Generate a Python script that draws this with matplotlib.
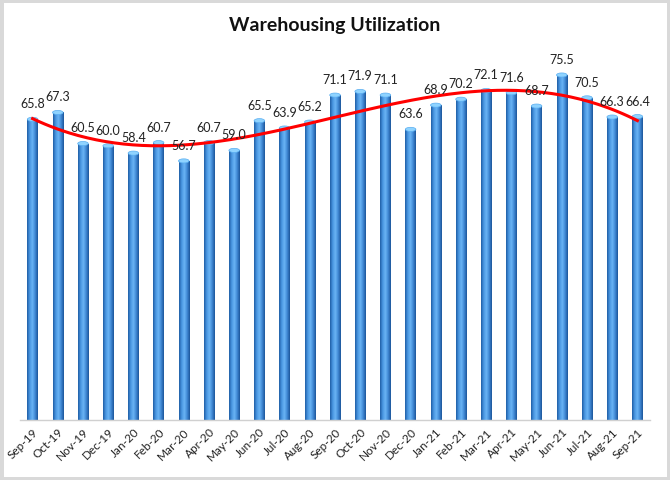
import matplotlib.pyplot as plt
import numpy as np
from matplotlib.patches import Ellipse
from matplotlib.colors import LinearSegmentedColormap

plt.rcParams['font.family'] = ['Lato', 'DejaVu Sans']

months = ['Sep-19', 'Oct-19', 'Nov-19', 'Dec-19', 'Jan-20', 'Feb-20', 'Mar-20',
          'Apr-20', 'May-20', 'Jun-20', 'Jul-20', 'Aug-20', 'Sep-20', 'Oct-20',
          'Nov-20', 'Dec-20', 'Jan-21', 'Feb-21', 'Mar-21', 'Apr-21', 'May-21',
          'Jun-21', 'Jul-21', 'Aug-21', 'Sep-21']
utilization = [65.8, 67.3, 60.5, 60.0, 58.4, 60.7, 56.7, 60.7, 59.0, 65.5,
               63.9, 65.2, 71.1, 71.9, 71.1, 63.6, 68.9, 70.2, 72.1, 71.6,
               68.7, 75.5, 70.5, 66.3, 66.4]

fig = plt.figure(figsize=(6.7, 4.81), dpi=100)
# outer frame
fig.patch.set_facecolor('white')
fig.patch.set_edgecolor('#d9d9d9')
fig.patch.set_linewidth(5)
ax = fig.add_axes([20 / 670, 60 / 481, 630 / 670, 361 / 481])

x = np.arange(len(months))
bars = ax.bar(x, utilization, width=0.42, color='#3d87d4', zorder=2)

cmap = LinearSegmentedColormap.from_list(
    'cyl', ['#1f5ea6', '#4a97e2', '#6ab4f5', '#3f88d4', '#1c559a'])
grad = np.linspace(0, 1, 64).reshape(1, -1)
for b in bars:
    im = ax.imshow(grad, cmap=cmap, aspect='auto', zorder=2.1,
                   extent=[b.get_x(), b.get_x() + b.get_width(), 0, b.get_height()])
    im.set_clip_path(b)
    ax.add_patch(Ellipse((b.get_x() + b.get_width() / 2, b.get_height()),
                         b.get_width(), 0.9, facecolor='#8fd3ff',
                         edgecolor='#5aaef0', lw=0.5, zorder=2.2))

for xi, v in zip(x, utilization):
    ax.text(xi, v + 2.2, f'{v:.1f}', ha='center', va='bottom', fontsize=9,
            color='#222222', zorder=4)

# polynomial trendline
coef = np.polyfit(x, utilization, 3)
xs = np.linspace(0, len(months) - 1, 200)
ax.plot(xs, np.polyval(coef, xs), color='#ff0000', lw=2.2, zorder=3)

ax.set_xlim(-0.5, len(months) - 0.5)
ax.set_ylim(0, 79)
ax.set_yticks([])
ax.set_xticks(x)
ax.set_xticklabels(months, rotation=45, ha='right', rotation_mode='anchor',
                   fontsize=8.5, color='#222222')
ax.tick_params(axis='x', length=0, pad=4)
for s in ['top', 'right', 'left']:
    ax.spines[s].set_visible(False)
ax.spines['bottom'].set_color('#d0d0d0')
ax.spines['bottom'].set_linewidth(1)

fig.text(0.5, 1 - 25 / 481, 'Warehousing Utilization', ha='center', va='center',
         fontsize=14, fontweight='bold', color='#111111')

fig.savefig('out.png', dpi=100, facecolor=fig.get_facecolor(),
            edgecolor=fig.get_edgecolor())
